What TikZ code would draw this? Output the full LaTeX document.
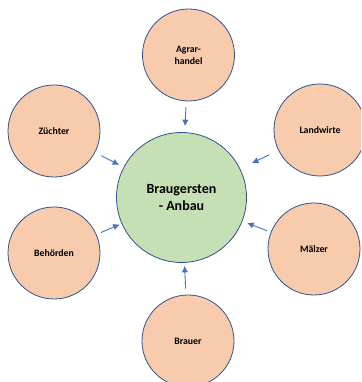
\documentclass[tikz,border=0pt]{standalone}
\usepackage{fontspec}
\setmainfont{Carlito}
\usepackage{tikz}
\usetikzlibrary{arrows.meta}
\usepackage{xcolor}
\definecolor{ringblue}{HTML}{2F528F}
\definecolor{arrowblue}{HTML}{4472C4}
\definecolor{peach}{HTML}{F8CBAD}
\definecolor{sage}{HTML}{C5E0B4}

\begin{document}
\begin{tikzpicture}[
    x=1pt, y=1pt,
    actor/.style={circle, draw=ringblue, line width=0.8pt, fill=peach, minimum size=92pt,
      inner sep=0pt, align=center, font=\fontsize{9.8}{12}\selectfont\bfseries},
    core/.style={circle, draw=ringblue, line width=0.8pt, fill=sage, minimum size=130pt,
      inner sep=0pt, align=center, font=\fontsize{14}{17}\selectfont\bfseries},
    flow/.style={-{Latex[length=6.5pt,width=6.5pt]}, arrowblue, line width=0.9pt}
  ]
    \useasboundingbox (0,0) rectangle (361,382);
    \clip (0,0) rectangle (361,382);

    \node[core] (main) at (181.5,184.5) {Braugersten\\- Anbau};

    \node[actor] (agrar) at (188.5,327) {Agrar-\\handel};
    \node[actor] (zuechter) at (54,251) {Züchter};
    \node[actor] (landwirte) at (320,252) {Landwirte};
    \node[actor] (maelzer) at (314,133) {Mälzer};
    \node[actor] (behoerden) at (54,129) {Behörden};
    \node[actor] (brauer) at (188,41) {Brauer};

    \draw[flow, shorten <=6pt, shorten >=6pt] (agrar) -- (main);
    \draw[flow, shorten <=7pt, shorten >=5pt] (zuechter) -- (main);
    \draw[flow, shorten <=10pt, shorten >=13pt] (landwirte) -- (main);
    \draw[flow, shorten <=4pt, shorten >=5pt] (maelzer) -- (main);
    \draw[flow, shorten <=5pt, shorten >=2pt] (behoerden) -- (main);
    \draw[flow, shorten <=6pt, shorten >=3pt] (brauer) -- (main);
  \end{tikzpicture}
\end{document}
